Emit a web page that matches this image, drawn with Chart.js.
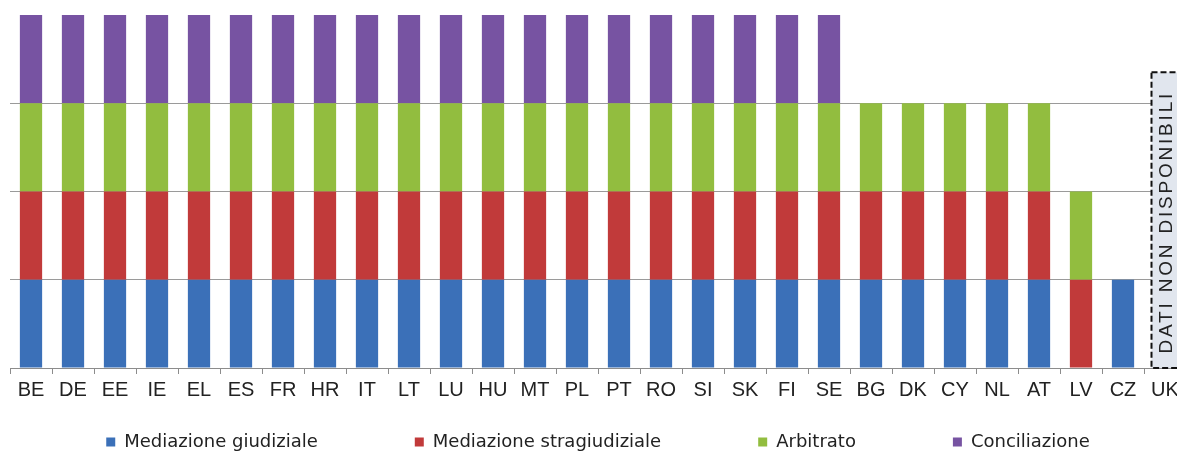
<!DOCTYPE html>
<html>
<head>
<meta charset="utf-8">
<script src="https://cdn.jsdelivr.net/npm/chart.js@4/dist/chart.umd.min.js"></script>
<style>
  html, body { margin: 0; padding: 0; background: #fff; overflow: hidden; }
  #wrap { width: 1186px; height: 454px; }
</style>
</head>
<body>
<div id="wrap"><canvas id="chart" width="1186" height="454"></canvas></div>
<script>
const categories = ["BE", "DE", "EE", "IE", "EL", "ES", "FR", "HR", "IT", "LT", "LU", "HU", "MT", "PL", "PT", "RO", "SI", "SK", "FI", "SE", "BG", "DK", "CY", "NL", "AT", "LV", "CZ", "UK"];

const giudiziale     = [1,1,1,1,1,1,1,1,1,1,1,1,1,1,1,1,1,1,1,1,1,1,1,1,1,0,1,0];
const stragiudiziale = [1,1,1,1,1,1,1,1,1,1,1,1,1,1,1,1,1,1,1,1,1,1,1,1,1,1,0,0];
const arbitrato      = [1,1,1,1,1,1,1,1,1,1,1,1,1,1,1,1,1,1,1,1,1,1,1,1,1,1,0,0];
const conciliazione  = [1,1,1,1,1,1,1,1,1,1,1,1,1,1,1,1,1,1,1,1,0,0,0,0,0,0,0,0];

const yTicks = [0, 1, 2, 3, 4];
const noDataLabel = "DATI NON DISPONIBILI";
const noDataCategory = "UK";
const noDataTop = 3.35;

const tickFont = "'Liberation Sans', Arial, sans-serif";
const legendFont = "'DejaVu Sans', Verdana, sans-serif";

// dashed box for the country without data
const noDataBox = {
  id: "noDataBox",
  afterDatasetsDraw(chart) {
    const { ctx, scales: { x, y } } = chart;
    const cx = x.getPixelForValue(categories.indexOf(noDataCategory));
    const top = y.getPixelForValue(noDataTop);
    const bottom = y.getPixelForValue(0);
    const w = 27;
    ctx.save();
    ctx.fillStyle = "#e1e6ee";
    ctx.fillRect(cx - w / 2, top, w, bottom - top);
    ctx.setLineDash([6, 3]);
    ctx.lineWidth = 2;
    ctx.strokeStyle = "#111";
    ctx.strokeRect(cx - w / 2, top, w, bottom - top);
    ctx.setLineDash([]);
    ctx.translate(cx, (top + bottom) / 2 + 2);
    ctx.rotate(-Math.PI / 2);
    ctx.fillStyle = "#222";
    ctx.font = "19px " + tickFont;
    ctx.letterSpacing = "2.8px";
    ctx.textAlign = "center";
    ctx.textBaseline = "alphabetic";
    ctx.fillText(noDataLabel, 0, 7);
    ctx.restore();
  }
};

// wider gaps between legend items, as in the original
const gap = "\u2002".repeat(10);

new Chart(document.getElementById("chart"), {
  type: "bar",
  data: {
    labels: categories,
    datasets: [
      { label: "Mediazione giudiziale", data: giudiziale, backgroundColor: "#3b70b8" },
      { label: "Mediazione stragiudiziale", data: stragiudiziale, backgroundColor: "#c13a3a" },
      { label: "Arbitrato", data: arbitrato, backgroundColor: "#92bd3f" },
      { label: "Conciliazione", data: conciliazione, backgroundColor: "#7753a2" }
    ]
  },
  options: {
    responsive: false,
    animation: false,
    layout: { padding: { left: 10, top: 15, right: 0, bottom: 0 } },
    datasets: { bar: { barPercentage: 0.53, categoryPercentage: 1 } },
    scales: {
      x: {
        stacked: true,
        afterFit: (s) => { s.height = 58; },
        border: { display: true, color: "#8c8c8c" },
        grid: { display: true, drawOnChartArea: false, drawTicks: true, tickLength: 6, color: "#8c8c8c" },
        ticks: { color: "#222", font: { family: tickFont, size: 20 }, padding: 4, maxRotation: 0, autoSkip: false }
      },
      y: {
        stacked: true,
        min: yTicks[0],
        max: yTicks[yTicks.length - 1],
        afterBuildTicks: (s) => { s.ticks = yTicks.map(v => ({ value: v })); },
        border: { display: false },
        grid: {
          drawTicks: false,
          color: (c) => (c.tick && c.tick.value === 4 ? "rgba(0,0,0,0)" : "#9a9a9a")
        },
        ticks: { display: false }
      }
    },
    plugins: {
      legend: {
        position: "bottom",
        maxHeight: 28,
        labels: {
          color: "#222",
          font: { family: legendFont, size: 18 },
          boxWidth: 9,
          boxHeight: 9,
          padding: 7,
          generateLabels: (chart) => {
            const items = Chart.defaults.plugins.legend.labels.generateLabels(chart);
            return items.map((it, i) => ({ ...it, text: i < items.length - 1 ? it.text + gap : it.text }));
          }
        }
      },
      tooltip: { enabled: false }
    }
  },
  plugins: [noDataBox]
});
</script>
</body>
</html>
